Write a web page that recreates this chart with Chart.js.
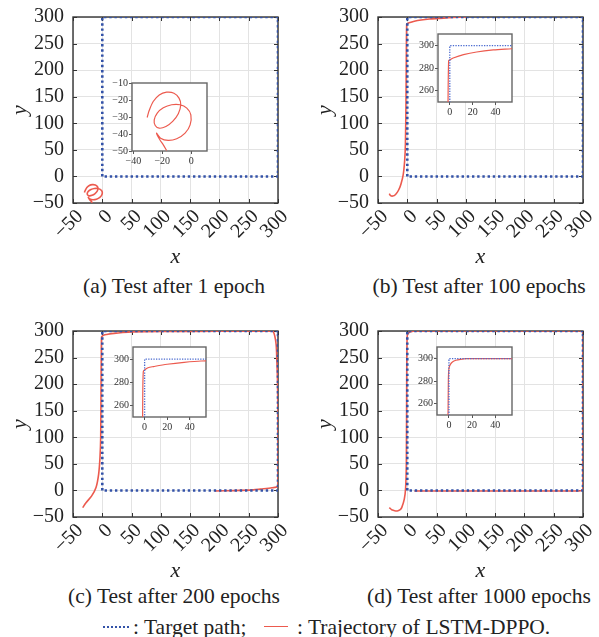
<!DOCTYPE html>
<html><head><meta charset="utf-8">
<script src="https://cdn.jsdelivr.net/npm/chart.js@4.4.0/dist/chart.umd.min.js"></script>
<style>
body{margin:0;width:599px;height:637px;background:#fff;position:relative;overflow:hidden;font-family:"Liberation Serif","Times New Roman",serif;color:#222}
canvas{position:absolute}
.cap{position:absolute;font-size:21.5px;white-space:nowrap;transform:translateX(-50%);line-height:24px}
.lg{position:absolute;font-size:21.5px;white-space:nowrap;line-height:24px}
</style></head><body>
<canvas id="pa" style="left:0;top:0" width="290" height="268"></canvas>
<canvas id="pb" style="left:305px;top:0" width="290" height="268"></canvas>
<canvas id="pc" style="left:0;top:314px" width="290" height="268"></canvas>
<canvas id="pd" style="left:305px;top:314px" width="290" height="268"></canvas>
<canvas id="ia" style="left:102px;top:77px" width="111" height="90"></canvas>
<canvas id="ib" style="left:408px;top:28px" width="110" height="90"></canvas>
<canvas id="ic" style="left:103px;top:341px" width="109" height="92"></canvas>
<canvas id="id" style="left:407px;top:341px" width="111" height="90"></canvas>
<div class="cap" style="left:174px;top:274px">(a) Test after 1 epoch</div>
<div class="cap" style="left:479px;top:274px">(b) Test after 100 epochs</div>
<div class="cap" style="left:174px;top:584px">(c) Test after 200 epochs</div>
<div class="cap" style="left:479px;top:584px">(d) Test after 1000 epochs</div>
<div style="position:absolute;left:103px;top:626px;width:26px;border-top:2.5px dotted #3352a8"></div>
<div class="lg" style="left:133px;top:615px">: Target path;</div>
<div style="position:absolute;left:264px;top:626px;width:24px;border-top:1.6px solid #ec5a4e"></div>
<div class="lg" style="left:297px;top:615px">: Trajectory of LSTM-DPPO.</div>
<script>
// target square path
const targetX = [0, 0, 300, 300, 0];
const targetY = [0, 300, 300, 0, 0];

// trajectories
const trajAx = [-30.5,-29.1,-26.3,-22.1,-17.0,-11.9,-8.4,-7.2,-8.9,-12.8,-17.5,-22.1,-24.9,-25.6,-23.5,-19.3,-13.5,-7.7,-3.0,-0.2,-0.7,-4.2,-10.0,-15.9,-21.2,-24.0,-21.7,-19.3,-17.0];
const trajAy = [-30.3,-26.2,-20.9,-17.0,-15.4,-16.0,-18.9,-22.8,-28.1,-32.6,-35.6,-36.6,-35.0,-31.7,-27.7,-24.6,-22.8,-22.8,-24.8,-28.7,-34.6,-39.5,-42.8,-43.8,-42.5,-39.5,-43.4,-46.4,-49.7];

const trajBx = [-30.7,-28.5,-25,-20,-15,-11,-7,-4.5,-3.2,-2.2,-1.6,-1.0,0,3,12,23.5,38,54,70,85,100];
const trajBy = [-32.4,-36,-37,-34,-26,-15,3,29.5,61,143,237,286.6,287.3,289,292,294.4,296.2,297.3,298.5,299.4,300];

const trajCx = [-33.5,-27.8,-18.1,-10.7,-6.2,-3.9,-2.7,-2.2,-1.7,-1.2,0,3,8,20,35,50,100,200,285,292,296.6,298,299.3,300,300,300,290,270,257.8,223.7,192.5];
const trajCy = [-32.4,-23,-10.3,5.5,30.8,62.3,100,182,260,289,290.5,292.5,293.5,295.5,297.2,298.3,299,299.5,299.5,299,276.7,245,200,100,30,8,5,2.5,1.1,-0.3,-1];

const trajDx = [-30.7,-27,-23.9,-17.1,-12,-9.5,-5.1,-2.8,-1.6,-1.0,-0.5,0,1,3,6,10,15,50,150,295,299,300,300,300,299,296,290,200,100,12];
const trajDy = [-32.4,-36,-37.4,-38.6,-36,-32.4,-16.5,5.5,56,213.5,280,291.3,294.5,297,298.6,299.5,300,300,300,300,299,296,150,5,1,-0.5,-1,-1,-1,-1];

const mainTicks = [-50, 0, 50, 100, 150, 200, 250, 300];
const insetATicksX = [-40, -20, 0];
const insetATicksY = [-50, -40, -30, -20, -10];
const insetTicksX = [0, 20, 40];
const insetTicksY = [260, 280, 300];

const serif = '"Liberation Serif", "Times New Roman", serif';
const RED = '#ec5a4e', BLUE = '#3352a8';

function pts(xs, ys) { return xs.map((x, i) => ({x: x, y: ys[i]})); }
function fmt(v) { return v < 0 ? '\u2212' + (-v) : String(v); }
function setTicks(list) { return s => { s.ticks = list.map(v => ({value: v})); }; }
// fixed scale box size, no extra label padding so the plot box stays put
function fixW(w) { return s => { s.width = w; s.paddingTop = 0; s.paddingBottom = 0; s.paddingLeft = 0; s.paddingRight = 0; }; }
function fixH(h) { return s => { s.height = h; s.paddingTop = 0; s.paddingBottom = 0; s.paddingLeft = 0; s.paddingRight = 0; }; }

// frame + white background + inward ticks
const framePlugin = {
  id: 'frame',
  beforeDraw(chart) {
    const a = chart.chartArea, c = chart.ctx;
    c.save(); c.fillStyle = '#fff'; c.fillRect(a.left, a.top, a.right - a.left, a.bottom - a.top); c.restore();
  },
  beforeDatasetsDraw(chart, args, opts) {
    const a = chart.chartArea, c = chart.ctx;
    c.save();
    c.strokeStyle = opts.color; c.lineWidth = opts.width;
    c.strokeRect(a.left, a.top, a.right - a.left, a.bottom - a.top);
    if (opts.inward) {
      c.lineWidth = 1;
      const xs = chart.scales.x, ys = chart.scales.y;
      c.beginPath();
      xs.ticks.forEach(t => {
        const p = Math.round(xs.getPixelForValue(t.value)) + 0.5;
        c.moveTo(p, a.bottom); c.lineTo(p, a.bottom - 4);
        c.moveTo(p, a.top); c.lineTo(p, a.top + 4);
      });
      ys.ticks.forEach(t => {
        const p = Math.round(ys.getPixelForValue(t.value)) + 0.5;
        c.moveTo(a.left, p); c.lineTo(a.left + 4, p);
        c.moveTo(a.right, p); c.lineTo(a.right - 4, p);
      });
      c.stroke();
    }
    c.restore();
  }
};

function mainChart(id, tx, ty) {
  new Chart(document.getElementById(id), {
    type: 'scatter',
    data: {datasets: [
      {data: pts(targetX, targetY), showLine: true, borderColor: BLUE, borderWidth: 2.6, borderDash: [2.4, 2.8], pointRadius: 0, tension: 0},
      {data: pts(tx, ty), showLine: true, borderColor: RED, borderWidth: 1.6, pointRadius: 0, tension: 0.3}
    ]},
    options: {
      responsive: false, animation: false, events: [],
      layout: {padding: {left: 9, top: 17, right: 12, bottom: 0}},
      plugins: {legend: {display: false}, tooltip: {enabled: false}, frame: {color: '#333', width: 1.4, inward: true}},
      scales: {
        x: {type: 'linear', min: -50, max: 300, afterBuildTicks: setTicks(mainTicks), afterFit: fixH(65),
          grid: {color: '#e3e3e3', drawTicks: false}, border: {display: false},
          ticks: {callback: fmt, autoSkip: false, minRotation: 45, maxRotation: 45, padding: 2, labelOffset: 7, color: '#222', font: {family: serif, size: 20}},
          title: {display: true, text: 'x', padding: 0, color: '#222', font: {family: serif, size: 22, style: 'italic', lineHeight: 1}}},
        y: {type: 'linear', min: -50, max: 300, afterBuildTicks: setTicks(mainTicks), afterFit: fixW(64),
          grid: {color: '#e3e3e3', drawTicks: false}, border: {display: false},
          ticks: {callback: fmt, autoSkip: false, padding: 9, color: '#222', font: {family: serif, size: 20}},
          title: {display: true, text: 'y', padding: 0, color: '#222', font: {family: serif, size: 22, style: 'italic', lineHeight: 1}}}
      }
    },
    plugins: [framePlugin]
  });
}

function insetChart(id, tx, ty, xr, yr, xt, yt) {
  new Chart(document.getElementById(id), {
    type: 'scatter',
    data: {datasets: [
      {data: pts(targetX, targetY), showLine: true, borderColor: '#4b6bd0', borderWidth: 1.3, borderDash: [1.3, 1.3], pointRadius: 0, tension: 0},
      {data: pts(tx, ty), showLine: true, borderColor: RED, borderWidth: 1.2, pointRadius: 0, tension: 0.3}
    ]},
    options: {
      responsive: false, animation: false, events: [],
      layout: {padding: {left: 0, top: 6, right: 6, bottom: 0}},
      plugins: {legend: {display: false}, tooltip: {enabled: false}, frame: {color: '#666', width: 1.4, inward: false}},
      scales: {
        x: {type: 'linear', min: xr[0], max: xr[1], afterBuildTicks: setTicks(xt), afterFit: fixH(16),
          grid: {drawOnChartArea: false, drawTicks: true, tickLength: 3, color: '#555'}, border: {display: false},
          ticks: {callback: fmt, autoSkip: false, maxRotation: 0, padding: 1, color: '#333', font: {family: serif, size: 10}}},
        y: {type: 'linear', min: yr[0], max: yr[1], afterBuildTicks: setTicks(yt), afterFit: fixW(30),
          grid: {drawOnChartArea: false, drawTicks: true, tickLength: 3, color: '#555'}, border: {display: false},
          ticks: {callback: fmt, autoSkip: false, padding: 1, color: '#333', font: {family: serif, size: 10}}}
      }
    },
    plugins: [framePlugin]
  });
}

mainChart('pa', trajAx, trajAy);
mainChart('pb', trajBx, trajBy);
mainChart('pc', trajCx, trajCy);
mainChart('pd', trajDx, trajDy);

insetChart('ia', trajAx, trajAy, [-41, 11], [-50, -10], insetATicksX, insetATicksY);
insetChart('ib', trajBx, trajBy, [-10.3, 54.4], [249.6, 310.5], insetTicksX, insetTicksY);
insetChart('ic', trajCx, trajCy, [-10.3, 54.4], [249.6, 310.5], insetTicksX, insetTicksY);
insetChart('id', trajDx, trajDy, [-10.3, 54.4], [249.6, 310.5], insetTicksX, insetTicksY);
</script>
</body></html>
